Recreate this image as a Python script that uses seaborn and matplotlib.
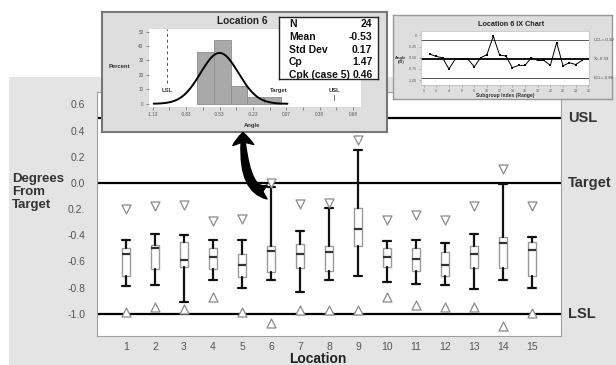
import numpy as np
import pandas as pd
import matplotlib
matplotlib.use("Agg")
import matplotlib.pyplot as plt
import seaborn as sns
from matplotlib.patches import Rectangle, FancyArrowPatch

# ---------------- data ----------------
locations = list(range(1, 16))
whisker_low = [-0.79, -0.78, -0.91, -0.74, -0.80, -0.74, -0.83, -0.74, -0.715, -0.755, -0.77, -0.78, -0.81, -0.74, -0.80]
quart1      = [-0.71, -0.66, -0.64, -0.66, -0.72, -0.68, -0.65, -0.67, -0.48, -0.645, -0.67, -0.71, -0.65, -0.65, -0.71]
median      = [-0.54, -0.50, -0.59, -0.565, -0.63, -0.52, -0.54, -0.53, -0.35, -0.565, -0.58, -0.626, -0.545, -0.46, -0.51]
quart3      = [-0.494, -0.476, -0.45, -0.50, -0.54, -0.48, -0.47, -0.48, -0.19, -0.50, -0.50, -0.53, -0.48, -0.415, -0.45]
whisker_high = [-0.44, -0.39, -0.40, -0.44, -0.44, -0.03, -0.37, -0.19, 0.25, -0.445, -0.435, -0.46, -0.39, -0.01, -0.41]
upper_mark  = [-0.20, -0.18, -0.17, -0.29, -0.275, 0.0, -0.16, -0.15, 0.33, -0.28, -0.244, -0.28, -0.18, 0.11, -0.18]
lower_mark  = [-0.985, -0.95, -0.965, -0.87, -0.99, -1.07, -0.975, -0.97, -0.975, -0.87, -0.93, -0.95, -0.95, -1.09, -0.995]

ytick_values = [0.6, 0.4, 0.2, 0.0, -0.2, -0.4, -0.6, -0.8, -1.0]
ytick_labels = ["0.6", "0.4", "0.2", "0.0", "0.2.", "-0.4", "-0.6", "-0.8", "-1.0"]
spec_values = [0.5, 0.0, -1.0]
spec_labels = ["USL", "Target", "LSL"]

# Location 6 histogram
hist_edges = [-0.73, -0.58, -0.43, -0.28, -0.13, 0.02]
hist_percent = [36, 44, 12, 5, 5]
hist_xticks = [-1.13, -0.98, -0.83, -0.68, -0.53, -0.38, -0.23, -0.08, 0.07, 0.22, 0.37, 0.52, 0.67]
hist_xticklabels = ["-1.13", "", "-0.83", "", "-0.53", "", "-0.23", "", "0.07", "", "0.38", "", "0.68"]
stat_names = ["N", "Mean", "Std Dev", "Cp", "Cpk (case 5)"]
stat_values = ["24", "-0.53", "0.17", "1.47", "0.46"]
loc6_mean = -0.53
loc6_sd = 0.17

# Location 6 IX chart
ix_index = list(range(1, 26))
ix_angle = [-0.42, -0.47, -0.50, -0.75, -0.53, -0.53, -0.53, -0.70, -0.50, -0.43, -0.02, -0.44, -0.46,
            -0.72, -0.67, -0.67, -0.50, -0.56, -0.56, -0.67, -0.16, -0.68, -0.61, -0.65, -0.56]
ix_ucl, ix_center, ix_lcl = -0.10, -0.53, -0.96
ix_labels = ["UCL=-0.10", r"$\bar{\mathrm{X}}$=-0.53", "LCL=-0.96"]

# ---------------- setup ----------------
sns.set_theme(style="white")
plt.rcParams['font.family'] = ['Liberation Sans', 'DejaVu Sans']

W, H = 616, 365
fig = plt.figure(figsize=(6.16, 3.65), dpi=100)
fig.patch.set_facecolor('white')

def px_rect(x0, y0, x1, y1):
    return [x0 / W, 1 - y1 / H, (x1 - x0) / W, (y1 - y0) / H]

def fpt(x, y):
    return (x / W, 1 - y / H)

fig.add_artist(Rectangle((9 / W, 0), (W - 9) / W, 1 - 77 / H, transform=fig.transFigure,
                         facecolor='#e4e4e4', edgecolor='none', zorder=-1))

# ---------------- main axes ----------------
ax = fig.add_axes(px_rect(97, 92, 561, 336))
ax.set_facecolor('white')
ax.set_xlim(0, 16)
ax.set_ylim(-1.17, 0.695)

for v in spec_values:
    ax.axhline(v, color='black', lw=1.6, zorder=2)

stats = [dict(whislo=wl, q1=a, med=m, q3=b, whishi=wh, fliers=[])
         for wl, a, m, b, wh in zip(whisker_low, quart1, median, quart3, whisker_high)]
ax.bxp(stats, positions=locations, widths=0.25, capwidths=0.25, patch_artist=True, showfliers=False,
       boxprops=dict(facecolor='white', edgecolor='#9a9a9a', linewidth=1.0),
       medianprops=dict(color='#333333', linewidth=1.6),
       whiskerprops=dict(color='#111111', linewidth=1.6),
       capprops=dict(color='#111111', linewidth=1.6),
       manage_ticks=False, zorder=3)

tri_df = pd.DataFrame({'Location': locations, 'upper': upper_mark, 'lower': lower_mark})
sns.scatterplot(data=tri_df, x='Location', y='upper', marker='v', s=42, color='white',
                edgecolor='#8a8a8a', linewidth=0.9, ax=ax, zorder=4)
sns.scatterplot(data=tri_df, x='Location', y='lower', marker='^', s=42, color='white',
                edgecolor='#8a8a8a', linewidth=0.9, ax=ax, zorder=4)

ax.set_xticks(locations)
ax.set_xticklabels([str(l) for l in locations])
ax.set_yticks(ytick_values)
ax.set_yticklabels(ytick_labels)
ax.tick_params(axis='both', length=0, labelsize=7.5, labelcolor='#555555')
ax.tick_params(axis='y', pad=8.5)
ax.tick_params(axis='x', pad=4)
ax.set_xlabel('')
ax.set_ylabel('')
for s in ax.spines.values():
    s.set_color('#a0a0a0')
    s.set_linewidth(0.8)

for v, lab in zip(spec_values, spec_labels):
    ax.text(1.015, v, lab, transform=ax.get_yaxis_transform(), ha='left', va='center',
            fontsize=10.5, fontweight='bold', color='#333333')

fig.text(*fpt(12, 192), "Degrees\nFrom\nTarget", ha='left', va='center', fontsize=9.5,
         fontweight='bold', linespacing=1.15, color='#333333', zorder=10)
fig.text(*fpt(318, 359), "Location", ha='center', va='center', fontsize=10,
         fontweight='bold', color='#222222', zorder=10)

# ---------------- inset 1 : histogram ----------------
box1 = fig.add_axes(px_rect(102, 12, 387, 132))
box1.set_zorder(5)
box1.set_facecolor('#dedede')
box1.set_xticks([]); box1.set_yticks([])
for s in box1.spines.values():
    s.set_color('#777777'); s.set_linewidth(1.5)

hax = fig.add_axes(px_rect(149, 28.7, 361, 106.7))
hax.set_zorder(6)
hax.set_facecolor('white')
hist_centers = [(a + b) / 2 for a, b in zip(hist_edges[:-1], hist_edges[1:])]
sns.histplot(x=hist_centers, weights=hist_percent, bins=hist_edges, color='#a9a9a9',
             edgecolor='#8c8c8c', linewidth=0.6, alpha=1, ax=hax)
xc = np.linspace(-1.12, 0.08, 200)
bw = hist_edges[1] - hist_edges[0]
yc = 100 * bw * np.exp(-0.5 * ((xc - loc6_mean) / loc6_sd) ** 2) / (loc6_sd * np.sqrt(2 * np.pi))
sns.lineplot(x=xc, y=yc, color='black', linewidth=1.4, ax=hax)
hax.set_xlim(-1.163, 0.74)
hax.set_ylim(-2, 52)
hax.axvline(-1.0, ymin=0.3, ymax=1, color='#555555', lw=0.7, ls=(0, (3, 3)))
hax.plot([0.5, 0.5], [2.5, 6], color='#555555', lw=0.6)
for xv, lab in [(-1.0, "LSL"), (0.0, "Target"), (0.5, "USL")]:
    hax.text(xv, 9.5, lab, ha='center', va='center', fontsize=4.2, fontweight='bold', color='#333333')
hax.set_xticks(hist_xticks)
hax.set_xticklabels(hist_xticklabels)
hax.set_yticks([0, 10, 20, 30, 40, 50])
hax.tick_params(axis='both', length=2, width=0.5, color='#666666', labelsize=3.3,
                labelcolor='#555555', pad=2, bottom=True, left=True)
hax.set_xlabel(''); hax.set_ylabel('')
for s in hax.spines.values():
    s.set_visible(False)

fig.text(*fpt(242, 21), "Location 6", ha='center', va='center', fontsize=7.3,
         fontweight='bold', color='#222222', zorder=10)
fig.text(*fpt(119, 67), "Percent", ha='center', va='center', fontsize=4.2,
         fontweight='bold', color='#333333', zorder=10)
fig.text(*fpt(252, 125), "Angle", ha='center', va='center', fontsize=4.2,
         fontweight='bold', color='#333333', zorder=10)

sax = fig.add_axes(px_rect(279, 17, 378, 79))
sax.set_zorder(7)
sax.set_facecolor('white')
sax.set_xticks([]); sax.set_yticks([])
for s in sax.spines.values():
    s.set_color('#222222'); s.set_linewidth(1.0)
row_y = [24.3, 37.3, 50, 62.3, 75]
for ry, nm, vl in zip(row_y, stat_names, stat_values):
    fig.text(*fpt(289, ry), nm, ha='left', va='center', fontsize=7.5, fontweight='bold',
             color='#111111', zorder=11)
    fig.text(*fpt(372.5, ry), vl, ha='right', va='center', fontsize=7.5, fontweight='bold',
             color='#111111', zorder=11)

# ---------------- inset 2 : IX chart ----------------
box2 = fig.add_axes(px_rect(393, 15, 612, 99))
box2.set_zorder(5)
box2.set_facecolor('#dedede')
box2.set_xticks([]); box2.set_yticks([])
for s in box2.spines.values():
    s.set_color('#999999'); s.set_linewidth(1.0)

iax = fig.add_axes(px_rect(421, 31.3, 589, 84.7))
iax.set_zorder(6)
iax.set_facecolor('white')
iax.axhline(ix_ucl, color='#555555', lw=0.7)
iax.axhline(ix_center, color='black', lw=1.3)
iax.axhline(ix_lcl, color='#555555', lw=0.7)
sns.lineplot(x=ix_index, y=ix_angle, color='black', linewidth=0.7, marker='s', markersize=2.0,
             markeredgewidth=0, ax=iax)
iax.set_xlim(-0.4, 26.1)
iax.set_ylim(-1.10, 0.09)
iax.set_xticks(list(range(0, 27, 2)))
iax.set_yticks([0, -0.25, -0.5, -0.75, -1.0])
iax.set_yticklabels(["0", "-0.25", "-0.50", "-0.75", "-1.00"])
iax.tick_params(axis='both', length=1.2, width=0.4, color='#888888', labelsize=2.5,
                labelcolor='#555555', pad=2, bottom=True, left=True)
iax.set_xlabel(''); iax.set_ylabel('')
for s in iax.spines.values():
    s.set_color('#bbbbbb'); s.set_linewidth(0.5)
for v, lab in zip([ix_ucl, ix_center, ix_lcl], ix_labels):
    iax.text(1.025, v, lab, transform=iax.get_yaxis_transform(), ha='left', va='center',
             fontsize=3.1, color='#444444')

fig.text(*fpt(511, 24), "Location 6 IX Chart", ha='center', va='center', fontsize=5.2,
         fontweight='bold', color='#222222', zorder=10)
fig.text(*fpt(401, 59.7), "Angle\n(IX)", ha='center', va='center', fontsize=3,
         fontweight='bold', color='#333333', linespacing=1.1, zorder=10)
fig.text(*fpt(505, 95), "Subgroup Index (Range)", ha='center', va='center', fontsize=3.6,
         fontweight='bold', color='#333333', zorder=10)

# ---------------- curved arrow ----------------
arrow = FancyArrowPatch(posA=fpt(267, 192), posB=fpt(243, 132.5), transform=fig.transFigure,
                        arrowstyle='fancy,head_length=0.45,head_width=0.75,tail_width=0.5',
                        mutation_scale=20, connectionstyle='angle3,angleA=0,angleB=90',
                        color='black', shrinkA=0, shrinkB=0, zorder=12)
fig.add_artist(arrow)

fig.savefig("out.png", dpi=100)
